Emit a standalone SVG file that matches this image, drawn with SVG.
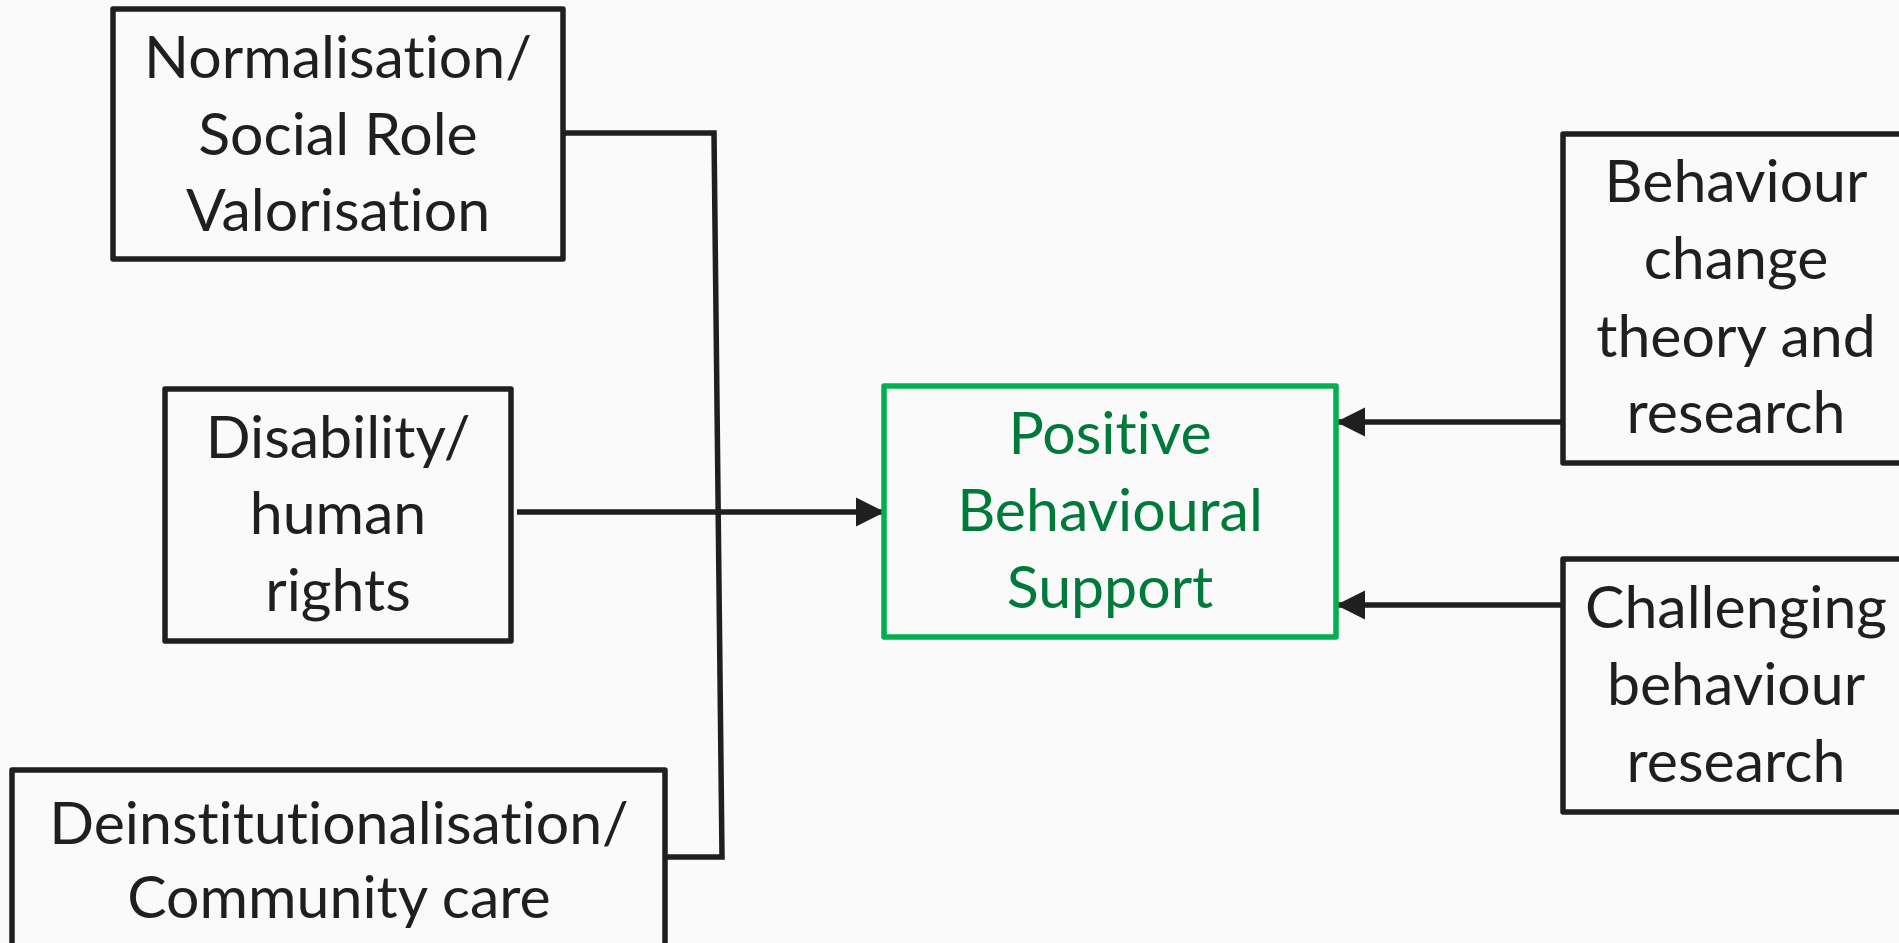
<svg xmlns="http://www.w3.org/2000/svg" width="1899" height="943" viewBox="0 0 1899 943">
  <defs>
    <marker id="arrow" markerUnits="userSpaceOnUse" markerWidth="30" markerHeight="30" refX="29" refY="15" orient="auto">
      <path d="M0,0.5 L29,15 L0,29.5 Z" fill="#1f1f1f"/>
    </marker>
    <style>
      .box { fill: none; stroke: #1f1f1f; stroke-width: 5.5; stroke-linejoin: round; }
      .pbs { fill: none; stroke: #00b050; stroke-width: 5.5; stroke-linejoin: round; }
      .lbl { font-family: Lato, "Open Sans", sans-serif; font-size: 59px; fill: #1f1f1f; text-anchor: middle; font-variant-ligatures: none; font-feature-settings: "liga" 0, "clig" 0; }
      .glbl { font-family: Lato, "Open Sans", sans-serif; font-size: 59px; fill: #007a3a; text-anchor: middle; font-variant-ligatures: none; font-feature-settings: "liga" 0, "clig" 0; }
      .conn { fill: none; stroke: #1f1f1f; stroke-width: 5.5; }
    </style>
  </defs>
  <rect x="0" y="0" width="1899" height="943" fill="#fafafa"/>

  <g id="connectors">
    <path class="conn" d="M563,133 H714 L722,857 H665"/>
    <path class="conn" d="M517,512 H885" marker-end="url(#arrow)"/>
    <path class="conn" d="M1563,422 H1336" marker-end="url(#arrow)"/>
    <path class="conn" d="M1563,605 H1336" marker-end="url(#arrow)"/>
  </g>

  <g id="node-normalisation">
    <rect class="box" x="113" y="9" width="450" height="250"/>
    <text class="lbl" x="338" y="78">Normalisation/</text>
    <text class="lbl" x="338" y="155">Social Role</text>
    <text class="lbl" x="338" y="231">Valorisation</text>
  </g>

  <g id="node-disability">
    <rect class="box" x="165" y="389" width="346" height="252"/>
    <text class="lbl" x="338" y="458">Disability/</text>
    <text class="lbl" x="338" y="534">human</text>
    <text class="lbl" x="338" y="611">rights</text>
  </g>

  <g id="node-deinstitutionalisation">
    <rect class="box" x="12" y="770" width="653" height="190"/>
    <text class="lbl" x="339" y="844">Deinstitutionalisation/</text>
    <text class="lbl" x="339" y="918">Community care</text>
  </g>

  <g id="node-pbs">
    <rect class="pbs" x="884" y="386" width="452" height="251"/>
    <text class="glbl" x="1110" y="454">Positive</text>
    <text class="glbl" x="1110" y="531">Behavioural</text>
    <text class="glbl" x="1110" y="608">Support</text>
  </g>

  <g id="node-behaviour-change">
    <rect class="box" x="1563" y="134" width="346" height="329"/>
    <text class="lbl" x="1736" y="202">Behaviour</text>
    <text class="lbl" x="1736" y="279">change</text>
    <text class="lbl" x="1736" y="357">theory and</text>
    <text class="lbl" x="1736" y="433">research</text>
  </g>

  <g id="node-challenging">
    <rect class="box" x="1563" y="559" width="346" height="253"/>
    <text class="lbl" x="1736" y="628">Challenging</text>
    <text class="lbl" x="1736" y="705">behaviour</text>
    <text class="lbl" x="1736" y="782">research</text>
  </g>
</svg>
